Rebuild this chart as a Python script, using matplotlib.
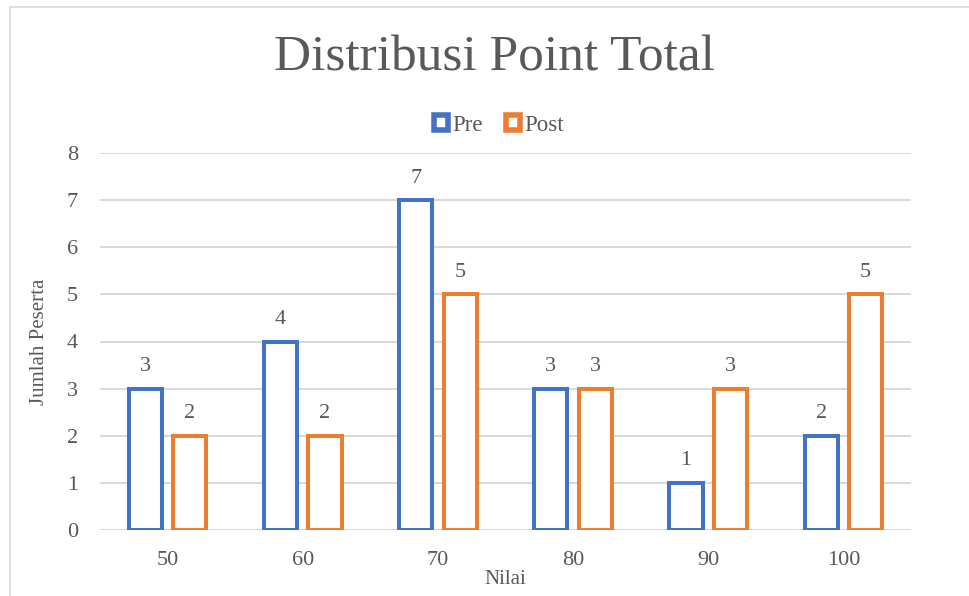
#!/usr/bin/env python3
# Distribusi Point Total - Excel style clustered column chart, hollow bars
import numpy as np
import matplotlib
matplotlib.use('Agg')
import matplotlib.pyplot as plt
from matplotlib.patches import Patch, Rectangle

nilai = ['50', '60', '70', '80', '90', '100']
pre = [3, 4, 7, 3, 1, 2]
post = [2, 2, 5, 3, 3, 5]

BLUE = '#4472C4'
ORANGE = '#ED7D31'
TXT = '#595959'
GRID = '#D9D9D9'

plt.rcParams['font.family'] = ['Liberation Serif', 'DejaVu Serif']

fig = plt.figure(figsize=(9.69, 5.96), dpi=100)
ax = fig.add_axes([100/969, 1-530/596, 811/969, 377/596])

# light chart border (only left and top are visible in the crop)
fig.patches.append(Rectangle((10/969, -0.1), 1.2, 1.1 - 7/596, transform=fig.transFigure,
                             fill=False, edgecolor=GRID, lw=1.2))

x = np.arange(len(nilai))
w = 0.245
off = 0.165
lw = 2.9

b1 = ax.bar(x - off, pre, w, facecolor='white', edgecolor=BLUE, linewidth=lw, zorder=3)
b2 = ax.bar(x + off, post, w, facecolor='white', edgecolor=ORANGE, linewidth=lw, zorder=3)

for bars, vals in ((b1, pre), (b2, post)):
    for r, v in zip(bars, vals):
        ax.annotate(str(v), (r.get_x() + r.get_width()/2, v), xytext=(0, 9),
                    textcoords='offset points', ha='center', va='bottom',
                    fontsize=16, color=TXT)

ax.set_xlim(-0.5, len(nilai) - 0.5)
ax.set_ylim(0, 8)
ax.set_yticks(range(0, 9))
ax.set_xticks(x)
ax.set_xticklabels(nilai)
ax.tick_params(axis='both', length=0, labelsize=16, labelcolor=TXT)
ax.tick_params(axis='x', pad=15)
ax.tick_params(axis='y', pad=16)
ax.grid(axis='y', color=GRID, lw=1.4, zorder=0)
for s in ax.spines.values():
    s.set_visible(False)

ax.set_xlabel('Nilai', fontsize=15, color=TXT, labelpad=0)
ax.set_ylabel('Jumlah Peserta', fontsize=15, color=TXT, labelpad=13)

fig.text(494/969, 1-58/596, 'Distribusi Point Total', ha='center', va='center',
         fontsize=37, color=TXT)

handles = [Patch(facecolor='white', edgecolor=BLUE, linewidth=4, label='Pre'),
           Patch(facecolor='white', edgecolor=ORANGE, linewidth=4, label='Post')]
fig.legend(handles=handles, loc='center', bbox_to_anchor=(499/969, 1-125/596), ncol=2,
           frameon=False, fontsize=16.5, labelcolor=TXT, handlelength=0.6, handleheight=0.6,
           handletextpad=0.2, columnspacing=1.0)

fig.savefig('out.png', dpi=100)
